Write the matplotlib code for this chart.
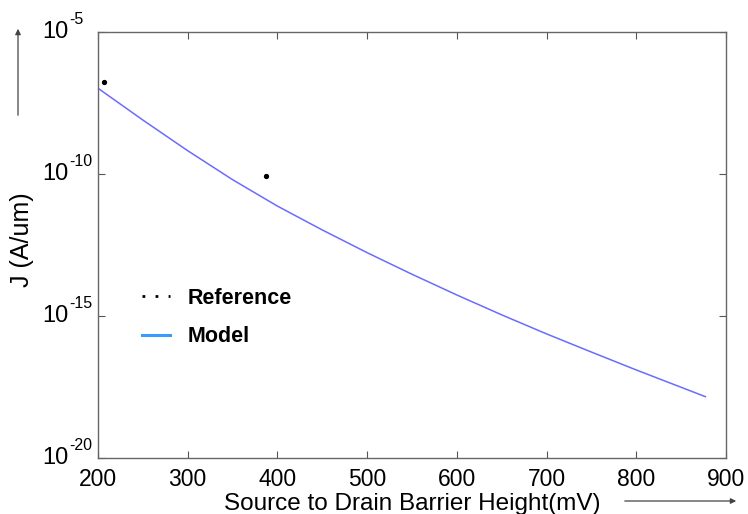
import matplotlib
matplotlib.use("Agg")
import matplotlib.pyplot as plt
import matplotlib.transforms as mtransforms
from matplotlib.lines import Line2D
from matplotlib.patches import FancyArrowPatch
import numpy as np

plt.rcParams['font.family'] = ['Liberation Sans', 'DejaVu Sans']

# Model current density vs. barrier height (log10 of J in A/um)
model_mv = [200, 250, 300, 350, 400, 450, 500, 550, 600, 650, 700, 750, 800, 850, 877]
model_log_j = [-6.98, -8.10, -9.18, -10.20, -11.13, -11.97, -12.77, -13.53,
               -14.26, -14.96, -15.63, -16.27, -16.90, -17.51, -17.84]

# Reference points
ref_mv = [207, 387]
ref_log_j = [-6.77, -10.06]

x_ticks = [200, 300, 400, 500, 600, 700, 800, 900]
y_exps = [-20, -15, -10, -5]

fig = plt.figure(figsize=(7.48, 5.14), dpi=100)
ax = fig.add_axes([98 / 748, 1 - 458 / 514, 628 / 748, 426 / 514])

ax.plot(model_mv, 10.0 ** np.array(model_log_j), color='#6b6bff', linewidth=1.1)
ax.plot(ref_mv, 10.0 ** np.array(ref_log_j), 'o', color='black', markersize=2.8)

ax.set_yscale('log')
ax.set_xlim(200, 900)
ax.set_ylim(1e-20, 1e-5)
ax.set_xticks(x_ticks)
ax.set_xticklabels([str(v) for v in x_ticks])
ax.set_yticks([10.0 ** e for e in y_exps])
ax.minorticks_off()
ax.tick_params(direction='in', length=5, width=0.8, color='#555555',
               top=True, right=True, labelsize=16.5, pad=7.5, labelleft=False)

# y tick labels: "10" with a raised exponent, left aligned
trans = mtransforms.blended_transform_factory(fig.transFigure, ax.transData)
trans_up = mtransforms.offset_copy(trans, fig=fig, y=8, units='dots')
for e in y_exps:
    ax.text(42 / 748, 10.0 ** e, '10', transform=trans, fontsize=17,
            ha='left', va='center')
    ax.text(69 / 748, 10.0 ** e, str(e), transform=trans_up, fontsize=11.5,
            ha='left', va='baseline')

for s in ax.spines.values():
    s.set_color('#666666')
    s.set_linewidth(1.0)

ax.set_xlabel('Source to Drain Barrier Height(mV)', fontsize=17.5, labelpad=1)
ax.set_ylabel('J (A/um)', fontsize=18)
ax.yaxis.set_label_coords((34 - 98) / 628, (458 - 240) / 426)

# Legend drawn with proxy handles
handles = [
    Line2D([], [], color='black', linestyle=(0, (1, 3.7)), linewidth=2),
    Line2D([], [], color='#3a9bff', linewidth=2.2),
]
leg = ax.legend(handles, ['Reference', 'Model'], loc='center left',
                bbox_to_anchor=((142 - 98) / 628, (458 - 317.5) / 426),
                frameon=False, borderpad=0, borderaxespad=0,
                prop={'weight': 'bold', 'size': 15.5}, handlelength=1.3,
                labelspacing=0.8, handletextpad=0.8)

# Direction arrows beside the axes
fig.patches.append(FancyArrowPatch(
    (18 / 748, 1 - 118 / 514), (18 / 748, 1 - 26 / 514),
    transform=fig.transFigure, arrowstyle='-|>', mutation_scale=8,
    color='#444444', linewidth=0.9))
fig.patches.append(FancyArrowPatch(
    (622 / 748, 1 - 501 / 514), (739 / 748, 1 - 501 / 514),
    transform=fig.transFigure, arrowstyle='-|>', mutation_scale=8,
    color='#444444', linewidth=0.9))

fig.savefig('out.png', dpi=100)
